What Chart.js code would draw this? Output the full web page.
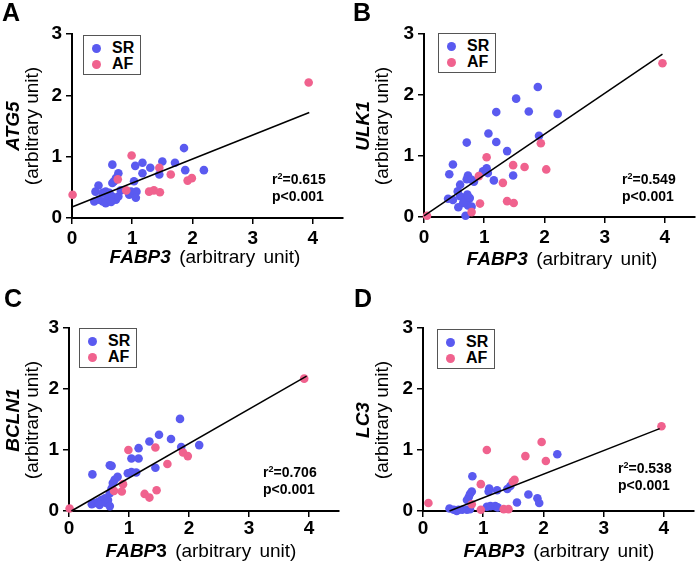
<!DOCTYPE html>
<html>
<head>
<meta charset="utf-8">
<script src="https://cdn.jsdelivr.net/npm/chart.js@4.4.1/dist/chart.umd.min.js"></script>
<style>
  body { margin: 0; background: #fff; font-family: "Liberation Sans", Arial, sans-serif; color: #000; }
  #fig { position: relative; width: 700px; height: 563px; overflow: hidden; }
  .panel { position: absolute; }
  .panel canvas { position: absolute; left: 0; top: 0; }
  .letter { position: absolute; font-weight: bold; font-size: 25px; line-height: 25px; }
  .ytl { position: absolute; white-space: nowrap; transform: translate(-50%, -50%) rotate(-90deg); font-size: 19px; line-height: 20px; }
  .ytl.gene { font-weight: bold; font-style: italic; }
  .xt { position: absolute; white-space: nowrap; transform: translate(-50%, -50%); font-size: 19px; line-height: 20px; word-spacing: 3px; }
  .xt i { font-weight: bold; }
  .legend { position: absolute; border: 1px solid #555; background: #fff; box-sizing: border-box; }
  .legend .row { position: absolute; left: 0; height: 16px; line-height: 16px; font-weight: bold; font-size: 16px; }
  .legend .dot { position: absolute; width: 9px; height: 9px; border-radius: 50%; top: 4px; }
  .legend .lab { position: absolute; left: 28px; top: 0; }
  .note { position: absolute; font-weight: bold; font-size: 14px; line-height: 17px; white-space: nowrap; }
  .note sup { font-size: 9px; vertical-align: 5px; line-height: 0; }
</style>
</head>
<body>
<div id="fig"></div>
<script>
const SR_COLOR = 'rgb(90, 90, 240)';
const AF_COLOR = 'rgb(240, 98, 142)';

const xTickValues = [0, 1, 2, 3, 4];
const yTickValues = [0, 1, 2, 3];

// A - ATG5 vs FABP3
const atg5SrX = [1.86, 0.67, 1.05, 1.17, 1.50, 1.71, 1.30, 1.88, 2.19, 1.17, 1.45, 0.77, 0.73, 0.70, 0.67, 1.03, 0.44, 0.39, 0.51, 0.56, 0.62, 0.98, 1.07, 0.95, 1.06, 0.37, 0.45, 0.51, 0.59, 0.65, 0.67, 0.73, 0.77, 0.56, 0.65, 0.81];
const atg5SrY = [1.14, 0.87, 0.85, 0.90, 0.92, 0.90, 0.82, 0.78, 0.78, 0.73, 0.71, 0.73, 0.65, 0.60, 0.57, 0.60, 0.53, 0.43, 0.41, 0.43, 0.41, 0.43, 0.43, 0.38, 0.33, 0.27, 0.30, 0.27, 0.33, 0.29, 0.35, 0.30, 0.35, 0.24, 0.26, 0.45];
const atg5AfX = [0.99, 1.45, 1.64, 1.92, 1.99, 0.76, 0.90, 1.28, 1.36, 1.46, 0.01, 3.93];
const atg5AfY = [1.02, 0.82, 0.71, 0.61, 0.65, 0.63, 0.45, 0.43, 0.45, 0.42, 0.38, 2.21];
const atg5FitX = [0, 3.94];
const atg5FitY = [0.18, 1.72];

// B - ULK1 vs FABP3
const ulk1SrX = [1.89, 1.53, 1.74, 2.22, 1.20, 1.07, 1.20, 1.91, 0.71, 1.38, 0.48, 0.42, 1.48, 1.16, 1.04, 0.98, 1.06, 0.73, 0.71, 0.79, 0.83, 0.60, 0.56, 0.40, 0.48, 0.60, 0.68, 0.76, 0.72, 0.57, 0.73, 0.79, 0.69, 0.65];
const ulk1SrY = [2.13, 1.94, 1.73, 1.69, 1.72, 1.37, 1.23, 1.33, 1.22, 1.08, 0.86, 0.70, 0.68, 0.60, 0.80, 0.75, 0.72, 0.68, 0.62, 0.61, 0.58, 0.53, 0.42, 0.30, 0.28, 0.34, 0.28, 0.31, 0.37, 0.16, 0.19, 0.17, 0.02, 0.23];
const ulk1AfX = [3.96, 1.94, 1.04, 1.48, 1.67, 2.03, 0.91, 1.31, 1.38, 1.49, 0.93, 0.79, 0.05];
const ulk1AfY = [2.52, 1.21, 0.98, 0.85, 0.82, 0.78, 0.67, 0.56, 0.26, 0.23, 0.22, 0.08, 0.02];
const ulk1FitX = [0, 3.96];
const ulk1FitY = [0.02, 2.67];

// C - BCLN1 vs FABP3
const bcln1SrX = [1.85, 1.50, 1.34, 1.70, 1.16, 1.87, 2.17, 1.04, 1.16, 0.68, 0.71, 0.39, 0.98, 1.04, 1.12, 1.44, 0.81, 0.76, 0.73, 0.71, 0.68, 0.38, 0.43, 0.49, 0.54, 0.60, 0.51, 0.62, 0.65, 0.68];
const bcln1SrY = [1.51, 1.25, 1.14, 1.18, 1.03, 1.05, 1.08, 0.86, 0.86, 0.75, 0.74, 0.60, 0.62, 0.64, 0.63, 0.71, 0.56, 0.51, 0.46, 0.37, 0.29, 0.11, 0.13, 0.15, 0.18, 0.21, 0.10, 0.13, 0.18, 0.08];
const bcln1AfX = [0.99, 1.44, 1.64, 1.90, 1.98, 0.90, 0.88, 0.75, 1.26, 1.34, 1.46, 0.01, 3.92];
const bcln1AfY = [1.00, 1.04, 0.77, 0.96, 0.90, 0.44, 0.32, 0.33, 0.28, 0.22, 0.34, 0.04, 2.17];
const bcln1FitX = [0.04, 3.96];
const bcln1FitY = [0, 2.21];

// D - LC3 vs FABP3
const lc3SrX = [2.23, 0.82, 0.81, 0.78, 0.76, 0.73, 1.10, 1.09, 1.23, 1.40, 1.75, 1.90, 1.93, 1.56, 1.06, 1.12, 1.20, 1.24, 0.44, 0.51, 0.59, 0.65, 0.73, 0.78, 0.56, 1.45];
const lc3SrY = [0.93, 0.57, 0.32, 0.28, 0.23, 0.18, 0.37, 0.32, 0.34, 0.36, 0.27, 0.21, 0.13, 0.14, 0.07, 0.08, 0.08, 0.06, 0.04, 0.02, 0.02, 0.02, 0.02, 0.03, 0.00, 0.41];
const lc3AfX = [1.97, 1.06, 1.70, 2.04, 1.52, 1.49, 0.96, 0.81, 0.09, 0.96, 1.34, 1.42, 3.96];
const lc3AfY = [1.13, 1.00, 0.90, 0.82, 0.51, 0.48, 0.44, 0.11, 0.13, 0.02, 0.03, 0.03, 1.39];
const lc3FitX = [0.44, 3.93];
const lc3FitY = [0, 1.35];

const panels = [
  { letter: 'A', gene: 'ATG5', xGene: '<i>FABP3</i>', r2: '0.615', p: '0.001',
    srX: atg5SrX, srY: atg5SrY, afX: atg5AfX, afY: atg5AfY, fitX: atg5FitX, fitY: atg5FitY,
    box: { x: 0, y: 0, w: 350, h: 281 }, area: { l: 72, t: 34, r: 343, b: 218 }, tickPad: 3,
    letterPos: [2, 0], legend: [83, 35], note: [272, 171], xTitle: [205, 257] },
  { letter: 'B', gene: 'ULK1', xGene: '<i>FABP3</i>', r2: '0.549', p: '0.001',
    srX: ulk1SrX, srY: ulk1SrY, afX: ulk1AfX, afY: ulk1AfY, fitX: ulk1FitX, fitY: ulk1FitY,
    box: { x: 350, y: 0, w: 350, h: 281 }, area: { l: 74, t: 34, r: 345, b: 217 }, tickPad: 3,
    letterPos: [3, 0], legend: [88, 33], note: [272, 171], xTitle: [212, 259] },
  { letter: 'C', gene: 'BCLN1', xGene: '<i>FABP</i><b>3</b>', r2: '0.706', p: '0.001',
    srX: bcln1SrX, srY: bcln1SrY, afX: bcln1AfX, afY: bcln1AfY, fitX: bcln1FitX, fitY: bcln1FitY,
    box: { x: 0, y: 281, w: 350, h: 282 }, area: { l: 69, t: 47, r: 339, b: 230 }, tickPad: 0,
    letterPos: [4, 5], legend: [79, 47], note: [263, 183], xTitle: [201, 270] },
  { letter: 'D', gene: 'LC3', xGene: '<i>FABP3</i>', r2: '0.538', p: '0.001',
    srX: lc3SrX, srY: lc3SrY, afX: lc3AfX, afY: lc3AfY, fitX: lc3FitX, fitY: lc3FitY,
    box: { x: 350, y: 281, w: 350, h: 282 }, area: { l: 73, t: 47, r: 344, b: 230 }, tickPad: 0,
    letterPos: [4, 5], legend: [87, 48], note: [268, 179], xTitle: [209, 270] }
];

function pts(xs, ys) {
  return xs.map((x, i) => ({ x: x, y: ys[i] }));
}

function addDiv(parent, cls, html, left, top) {
  const d = document.createElement('div');
  d.className = cls;
  d.innerHTML = html;
  d.style.left = left + 'px';
  d.style.top = top + 'px';
  parent.appendChild(d);
  return d;
}

const tickFont = { family: '"Liberation Sans", Arial, sans-serif', size: 19, weight: 'bold' };

panels.forEach(p => {
  const fig = document.getElementById('fig');
  const wrap = document.createElement('div');
  wrap.className = 'panel';
  wrap.style.left = p.box.x + 'px';
  wrap.style.top = p.box.y + 'px';
  wrap.style.width = p.box.w + 'px';
  wrap.style.height = p.box.h + 'px';
  fig.appendChild(wrap);

  const canvas = document.createElement('canvas');
  canvas.width = p.box.w;
  canvas.height = p.box.h;
  wrap.appendChild(canvas);

  new Chart(canvas, {
    type: 'scatter',
    data: {
      datasets: [
        { label: 'SR', data: pts(p.srX, p.srY), backgroundColor: SR_COLOR, borderWidth: 0, pointRadius: 4.3, order: 2, clip: false },
        { label: 'AF', data: pts(p.afX, p.afY), backgroundColor: AF_COLOR, borderWidth: 0, pointRadius: 4.3, order: 1, clip: false },
        { type: 'line', label: 'fit', data: pts(p.fitX, p.fitY), borderColor: '#000', borderWidth: 1.5, pointRadius: 0, order: 0, clip: false }
      ]
    },
    options: {
      responsive: false,
      animation: false,
      events: [],
      layout: { padding: { top: p.area.t, right: p.box.w - p.area.r, left: 0, bottom: 0 } },
      plugins: { legend: { display: false }, tooltip: { enabled: false } },
      scales: {
        x: {
          type: 'linear', min: 0, max: 4.5,
          afterFit: s => { s.height = p.box.h - p.area.b; },
          afterBuildTicks: s => { s.ticks = xTickValues.map(v => ({ value: v })); },
          ticks: { font: tickFont, color: '#000', padding: p.tickPad, maxRotation: 0 },
          grid: { drawOnChartArea: false, tickLength: 6, color: '#000', lineWidth: 1.5 },
          border: { color: '#000', width: 2 }
        },
        y: {
          type: 'linear', min: 0, max: 3,
          afterFit: s => { s.width = p.area.l; },
          afterBuildTicks: s => { s.ticks = yTickValues.map(v => ({ value: v })); },
          ticks: { font: tickFont, color: '#000', padding: 4 },
          grid: { drawOnChartArea: false, tickLength: 6, color: '#000', lineWidth: 1.5 },
          border: { color: '#000', width: 2 }
        }
      }
    }
  });

  addDiv(wrap, 'letter', p.letter, p.letterPos[0], p.letterPos[1]);

  const midY = (p.area.t + p.area.b) / 2;
  addDiv(wrap, 'ytl gene', p.gene, 13, midY);
  addDiv(wrap, 'ytl', '(arbitrary unit)', 32, midY);
  addDiv(wrap, 'xt', p.xGene + ' (arbitrary unit)', p.xTitle[0], p.xTitle[1]);

  const lg = addDiv(wrap, 'legend', '', p.legend[0], p.legend[1]);
  lg.style.width = '58px';
  lg.style.height = '40px';
  [['SR', SR_COLOR], ['AF', AF_COLOR]].forEach((item, i) => {
    const row = document.createElement('div');
    row.className = 'row';
    row.style.top = (4 + i * 16) + 'px';
    row.style.width = '100%';
    row.innerHTML = '<span class="dot" style="left:8px;background:' + item[1] + '"></span><span class="lab">' + item[0] + '</span>';
    lg.appendChild(row);
  });

  addDiv(wrap, 'note', 'r<sup>2</sup>=' + p.r2 + '<br>p&lt;' + p.p, p.note[0], p.note[1]);
});
</script>
</body>
</html>
